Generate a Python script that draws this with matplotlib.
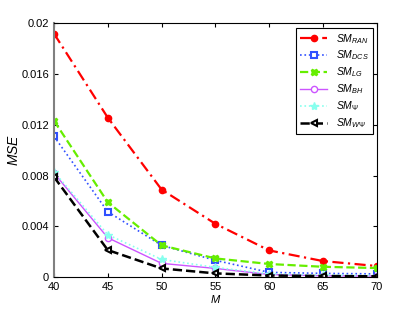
import numpy as np
import matplotlib
matplotlib.use("Agg")
import matplotlib.pyplot as plt

# data
M = [40, 45, 50, 55, 60, 65, 70]
sm_ran = [0.0192, 0.01257, 0.0069, 0.0042, 0.0021, 0.00126, 0.00087]
sm_dcs = [0.0111, 0.00515, 0.0025, 0.00132, 0.00037, 0.00029, 0.00025]
sm_lg = [0.01233, 0.0059, 0.0025, 0.00147, 0.00103, 0.00081, 0.00071]
sm_bh = [0.0082, 0.0031, 0.00108, 0.00068, 0.0002, 0.0001, 0.00008]
sm_psi = [0.0083, 0.00334, 0.00139, 0.00076, 0.00025, 0.00015, 0.00012]
sm_wpsi = [0.0079, 0.00213, 0.00068, 0.00029, 0.00012, 0.00008, 0.00006]

yticks = [0, 0.004, 0.008, 0.012, 0.016, 0.02]
ytick_labels = ["0", "0.004", "0.008", "0.012", "0.016", "0.02"]

plt.rcParams['font.family'] = 'Liberation Sans'
plt.rcParams['mathtext.fontset'] = 'custom'
plt.rcParams['mathtext.it'] = 'Liberation Sans:italic'
plt.rcParams['mathtext.rm'] = 'Liberation Sans'

fig = plt.figure(figsize=(4.15, 3.12), dpi=100)
ax = fig.add_axes([0.130, 0.112, 0.778, 0.813])

ax.plot(M, sm_ran, color='#ff0000', ls=(0, (5, 2, 1, 2)), lw=1.6, marker='o', ms=4.5,
        label=r'$SM_{RAN}$')
ax.plot(M, sm_dcs, color='#3050ff', ls=':', lw=1.2, marker='s', ms=4.5,
        mfc='white', mew=1.5, label=r'$SM_{DCS}$')
ax.plot(M, sm_lg, color='#66ee00', ls='--', lw=1.6, marker='X', ms=4.5,
        label=r'$SM_{LG}$')
ax.plot(M, sm_bh, color='#cc55ff', ls='-', lw=1.0, marker='o', ms=4.5,
        mfc='white', label=r'$SM_{BH}$')
ax.plot(M, sm_psi, color='#88ffee', ls=':', lw=1.2, marker='*', ms=6,
        label=r'$SM_{\Psi}$')
ax.plot(M, sm_wpsi, color='black', ls='--', lw=1.8, marker='<', ms=5,
        mfc='white', mew=1.5, label=r'$SM_{W\Psi}$')

ax.set_xlim(40, 70)
ax.set_ylim(0, 0.02)
ax.set_xticks(M)
ax.set_yticks(yticks)
ax.set_yticklabels(ytick_labels)
ax.tick_params(direction='in', top=True, right=True, labelsize=8, length=3)
ax.spines['left'].set_color('#808080')
ax.spines['left'].set_linewidth(1.5)

ax.set_xlabel(r'$M$', fontsize=8, labelpad=1)
ax.set_ylabel(r'$MSE$', fontsize=10, labelpad=0)

leg = ax.legend(loc='upper right', fontsize=7.5, fancybox=False,
                edgecolor='black', framealpha=1, handlelength=2.6,
                borderaxespad=0.4, labelspacing=0.3)
leg.get_frame().set_linewidth(0.8)

fig.savefig('out.png', dpi=100)
